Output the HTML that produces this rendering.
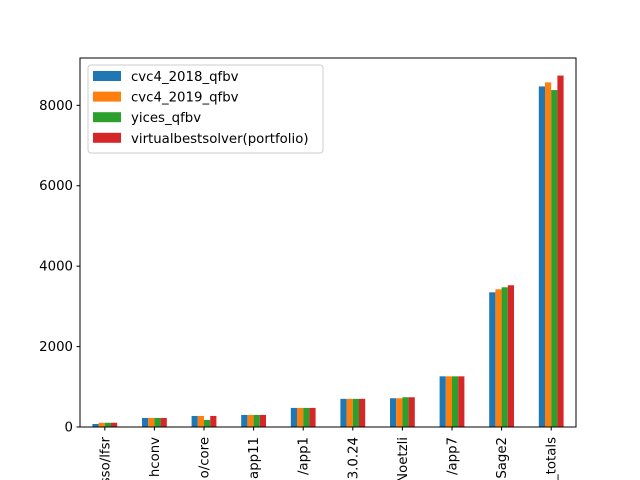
<!DOCTYPE html>
<html><head><meta charset="utf-8"><style>html,body{margin:0;background:#fff;width:640px;height:480px;overflow:hidden}svg{display:block;font-family:"DejaVu Sans","Liberation Sans",sans-serif}</style></head>
<body>
<svg id="chart" width="640" height="480" style="overflow:hidden"></svg>
<script>
const categories=["sso/lfsr","hconv","o/core","app11","/app1","3.0.24","Noetzli","/app7","Sage2","_totals"];
const seriesNames=["cvc4_2018_qfbv","cvc4_2019_qfbv","yices_qfbv","virtualbestsolver(portfolio)"];
const cvc4_2018=[75,225,275,300,475,700,715,1260,3350,8470];
const cvc4_2019=[105,225,275,300,475,700,715,1260,3425,8570];
const yices=[105,225,175,300,475,700,740,1260,3475,8380];
const vbs=[105,225,275,300,475,700,740,1260,3525,8740];
const yTicks=[0,2000,4000,6000,8000];
const colors=["#1f77b4","#ff7f0e","#2ca02c","#d62728"];
const series=[cvc4_2018,cvc4_2019,yices,vbs];
const NS="http://www.w3.org/2000/svg";
const svg=document.getElementById('chart');
const L=80,R=576,T=58,B=427;
const yMax=9177;
function y(v){return B-(v/yMax)*(B-T);}
const step=(R-L)/categories.length;
function xc(i){return L+step*(i+0.5);}
function el(t,a){const e=document.createElementNS(NS,t);for(const k in a)e.setAttribute(k,a[k]);svg.appendChild(e);return e;}
const bw=step*0.5/4;
series.forEach((s,si)=>{s.forEach((v,i)=>{
 const r=el('rect',{x:xc(i)-step*0.25+si*bw,y:y(v),width:bw,height:B-y(v),fill:colors[si]});
 
 
});});
const ax=el('rect',{x:L,y:T,width:R-L,height:B-T,fill:'none',stroke:'#000','stroke-width':1});


yTicks.forEach(v=>{
 const ln=el('line',{x1:L-3.5,x2:L,y1:y(v),y2:y(v),stroke:'#000'});
 
 
 const t=el('text',{x:L-7,y:y(v)+4.5,'text-anchor':'end','font-size':'13.3'});
 t.textContent=v;
 
 
});
categories.forEach((c,i)=>{
 const ln=el('line',{x1:xc(i),x2:xc(i),y1:B,y2:B+3.5,stroke:'#000'});
 
 
 const t=el('text',{x:0,y:0,'text-anchor':'end','font-size':'13.3',transform:`translate(${xc(i)+4.5},${B+10}) rotate(-90)`});
 t.textContent=c;
 
 
});
const lg=el('rect',{x:88,y:65,width:235,height:88,fill:'#fff','fill-opacity':0.8,stroke:'#ccc',rx:3});


seriesNames.forEach((n,i)=>{
 const yy=76+i*20.6;
 const p=el('rect',{x:93,y:yy-5,width:28,height:10,fill:colors[i]});
 
 
 const t=el('text',{x:131,y:yy+5,'font-size':'13.3'});
 t.textContent=n;
 
 
});
</script>
</body></html>
